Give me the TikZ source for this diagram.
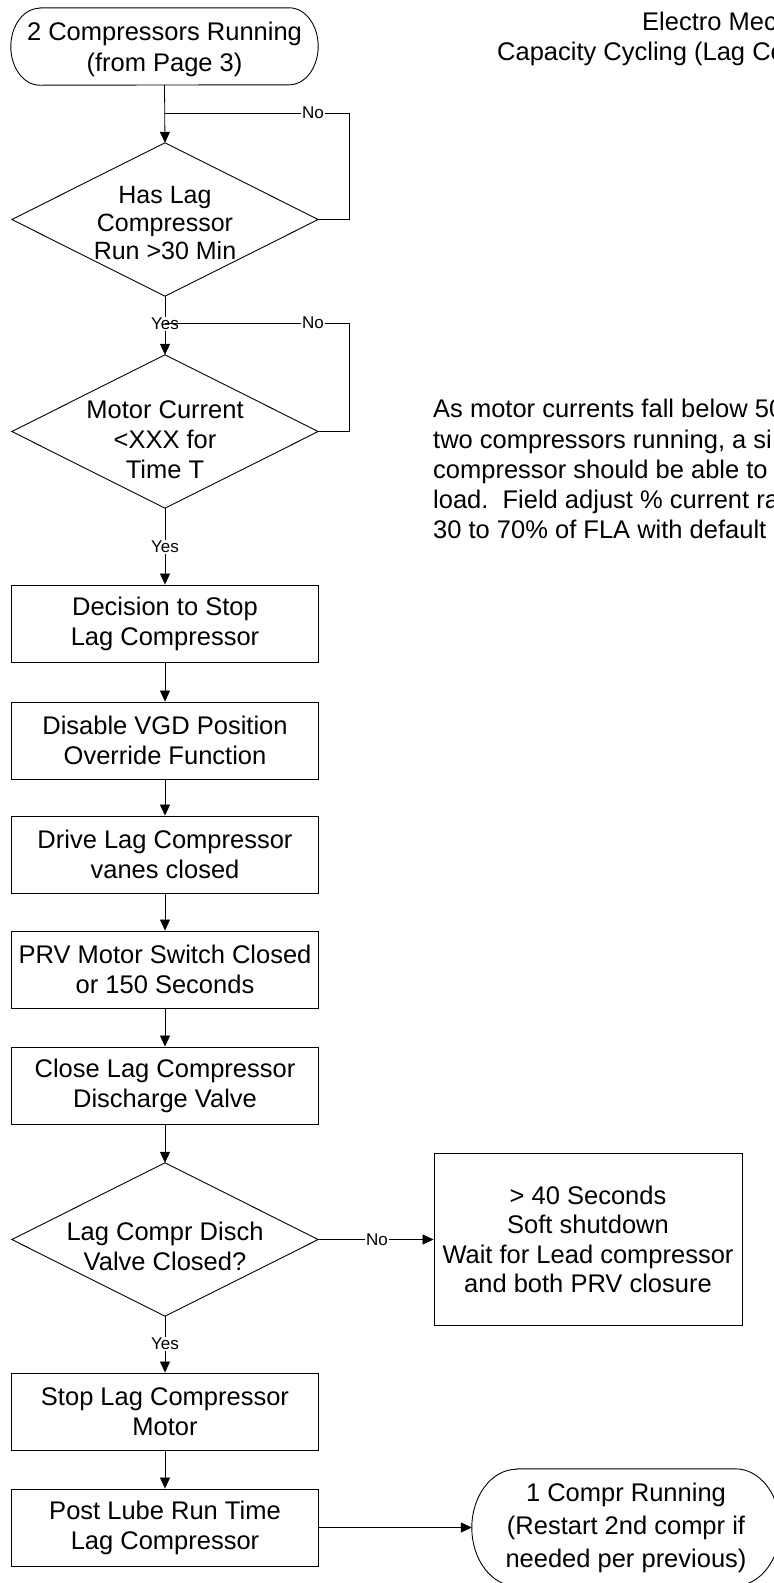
\documentclass[tikz,border=0pt]{standalone}
\usepackage{fontspec}
\setmainfont{Liberation Sans}
\usetikzlibrary{arrows.meta,calc}

% text sizes used in the chart
\newcommand\chartsize{\fontsize{25.5pt}{30pt}\selectfont}
\newcommand\tallsize{\fontsize{25.5pt}{33pt}\selectfont}
\newcommand\tightsize{\fontsize{25pt}{28pt}\selectfont}
\newcommand\lblsize{\fontsize{17pt}{20pt}\selectfont}
% invisible strut that pushes a text block down inside its shape
\newcommand\topstrut[1]{\rule{0pt}{#1}}

\tikzset{
  x=1pt, y=1pt,
  outline/.style={draw=black, line width=0.9pt},
  flowline/.style={draw=black, line width=0.8pt},
  arrowline/.style={flowline, -{Triangle[length=11pt,width=10pt]}},
  procbox/.style={rectangle, outline, inner sep=0pt, align=center,
    minimum width=307pt, minimum height=77pt, font=\chartsize},
  shapetext/.style={rectangle, inner sep=0pt, align=center, font=\chartsize},
  decision/.style={shapetext, minimum width=306pt, minimum height=153pt},
  lbl/.style={fill=white, inner sep=1.5pt, font=\lblsize},
  note/.style={anchor=base west, inner sep=0pt, font=\chartsize}
}

\begin{document}
\begin{tikzpicture}
\useasboundingbox (0,0) rectangle (774,-1583);
\clip (0,0) rectangle (774,-1583);

% ---------- heading and side note ----------
\node[note] (title1) at (642,-30) {Electro Mec};
\node[note] (title2) at (497,-60) {Capacity Cycling (Lag Co};

\node[note] (n1) at (433,-417) {As motor currents fall below 50};
\node[note] (n2) at (433,-448) {two compressors running, a si};
\node[note] (n3) at (433,-478) {compressor should be able to};
\node[note] (n4) at (433,-508) {load.\ \ Field adjust \% current ra};
\node[note] (n5) at (433,-538) {30 to 70\% of FLA with default};

% ---------- start terminal ----------
\node[shapetext, minimum width=307pt, minimum height=77pt, font=\fontsize{25.5pt}{31.6pt}\selectfont]
  (s) at (164.5,-46.5) {\topstrut{24pt}2 Compressors Running\\(from Page 3)};
\draw[outline] ($(s.north west)+(29,0)$) -- ($(s.north east)+(-29,0)$)
  arc[start angle=90, end angle=-90, x radius=29, y radius=38.5]
  -- ($(s.south west)+(29,0)$)
  arc[start angle=270, end angle=90, x radius=29, y radius=38.5] -- cycle;

% ---------- decisions ----------
\node[decision, font=\tightsize] (d1) at (165,-219.5)
  {\topstrut{24pt}Has Lag\\Compressor\\Run >30 Min};
\draw[outline] (d1.north) -- (d1.east) -- (d1.south) -- (d1.west) -- cycle;

\node[decision] (d2) at (165,-431.5)
  {\topstrut{34pt}Motor Current\\<XXX for\\Time T};
\draw[outline] (d2.north) -- (d2.east) -- (d2.south) -- (d2.west) -- cycle;

% ---------- process steps ----------
\node[procbox] (b1) at (165,-623.5) {Decision to Stop\\Lag Compressor};
\node[procbox] (b2) at (165,-740.5) {Disable VGD Position\\Override Function};
\node[procbox] (b3) at (165,-854.5) {Drive Lag Compressor\\vanes closed};
\node[procbox] (b4) at (165,-969.5) {PRV Motor Switch Closed\\or 150 Seconds};
\node[procbox] (b5) at (165,-1085.5) {Close Lag Compressor\\Discharge Valve};

\node[decision] (d3) at (165,-1239.5)
  {\topstrut{32pt}Lag Compr Disch\\Valve Closed?};
\draw[outline] (d3.north) -- (d3.east) -- (d3.south) -- (d3.west) -- cycle;

\node[procbox, minimum width=308pt, minimum height=172pt, font=\fontsize{25.5pt}{29.5pt}\selectfont]
  (rb) at (588,-1239.5)
  {> 40 Seconds\\Soft shutdown\\Wait for Lead compressor\\and both PRV closure};

\node[procbox] (b6) at (165,-1411.5) {Stop Lag Compressor\\Motor};
\node[procbox] (b7) at (165,-1527.5) {Post Lube Run Time\\Lag Compressor};

% ---------- end terminal ----------
\node[shapetext, minimum width=308pt, minimum height=117pt, font=\tallsize]
  (e) at (626,-1527.5) {1 Compr Running\\(Restart 2nd compr if\\needed per previous)};
\draw[outline] ($(e.north west)+(45,0)$) -- ($(e.north east)+(-45,0)$)
  arc[start angle=90, end angle=-90, x radius=45, y radius=58.5]
  -- ($(e.south west)+(45,0)$)
  arc[start angle=270, end angle=90, x radius=45, y radius=58.5] -- cycle;

% ---------- connectors ----------
\coordinate (j1) at (165,-113);
\coordinate (j2) at (165,-323);

\draw[arrowline] (s.south) -- (d1.north);
\draw[flowline] (d1.east) -- ++(31,0) |- (j1);
\node[lbl] (no1) at (313,-113) {No};

\draw[arrowline] (d1.south) -- (d2.north);
\node[lbl] (yes1) at (165,-324) {Yes};
\draw[flowline] (d2.east) -- ++(31,0) |- (j2);
\node[lbl] (no2) at (313,-323) {No};

\draw[arrowline] (d2.south) -- (b1.north);
\node[lbl] (yes2) at (165,-547) {Yes};

\draw[arrowline] (b1) -- (b2);
\draw[arrowline] (b2) -- (b3);
\draw[arrowline] (b3) -- (b4);
\draw[arrowline] (b4) -- (b5);
\draw[arrowline] (b5.south) -- (d3.north);

\draw[arrowline] (d3.east) -- (rb.west);
\node[lbl] (no3) at (377,-1239.5) {No};

\draw[arrowline] (d3.south) -- (b6.north);
\node[lbl] (yes3) at (165,-1344) {Yes};

\draw[arrowline] (b6) -- (b7);
\draw[arrowline] (b7.east) -- (e.west);
\end{tikzpicture}
\end{document}
